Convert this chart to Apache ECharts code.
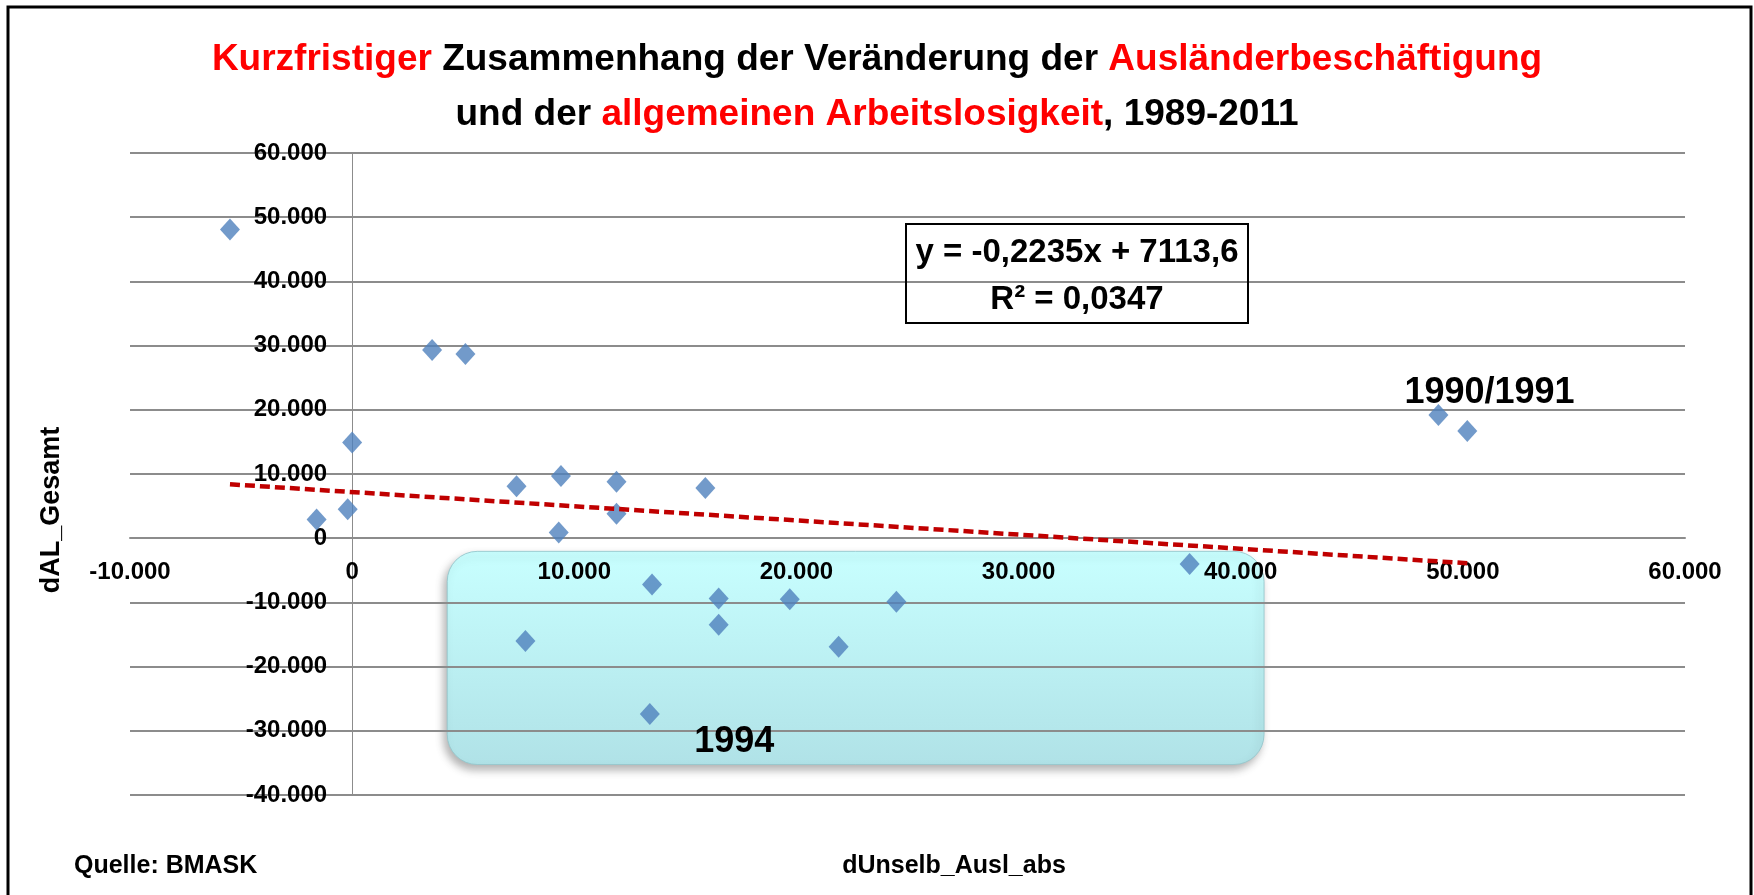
<!DOCTYPE html>
<html lang="de">
<head>
    <meta charset="UTF-8">
    <title>Ausländerbeschäftigung und Arbeitslosigkeit</title>
    <style>
        html, body { margin: 0; padding: 0; background: #fff; }
    </style>
</head>
<body>
<div id="container" style="width: 1754px;height:895px;"></div>

<script src="https://cdn.jsdelivr.net/npm/echarts@6/dist/echarts.min.js"></script>
<script type="text/javascript">

// Veränderung der unselbständig beschäftigten Ausländer (x) und der Arbeitslosen (y), 1989-2011
var dUnselbAusl = [-5500, 3600, 5100, 0, -1600, -200, 7400, 9400, 9300, 11900, 11900, 15900,
                   13500, 16500, 16500, 19700, 7800, 21900, 13400, 24500, 37700, 48900, 50200];
var dALGesamt   = [48100, 29300, 28700, 14900, 2900, 4500, 8100, 9700, 900, 8800, 3800, 7800,
                   -7200, -9400, -13500, -9500, -16000, -16900, -27400, -9900, -4000, 19200, 16700];

// lineare Trendlinie (Endpunkte)
var trendX = [-5500, 50200];
var trendY = [8400, -3900];

// Achsen
var xTicks = {min: -10000, max: 60000, step: 10000};
var yTicks = {min: -40000, max: 60000, step: 10000};

// Markierungen (in Datenkoordinaten)
var boxRange = {x: [4280, 41050], y: [-2050, -35250]};
var yearNotes = [
  {text: '1990/1991', x: 51200, y: 22600},
  {text: '1994', x: 17200, y: -31800}
];

var FONT = "'Liberation Sans', Arial, sans-serif";

function fmt(v) {
  // 10000 -> 10.000
  var s = Math.abs(v).toString().replace(/\B(?=(\d{3})+(?!\d))/g, '.');
  return (v < 0 ? '-' : '') + s;
}

var points = [];
for (var i = 0; i < dUnselbAusl.length; i++) {
  points.push([dUnselbAusl[i], dALGesamt[i]]);
}
var trend = [];
for (var i = 0; i < trendX.length; i++) {
  trend.push([trendX[i], trendY[i]]);
}

var gridLeft = 130, gridRight = 69, gridTop = 153, gridBottom = 100;
var plotW = 1754 - gridLeft - gridRight;
var plotH = 895 - gridTop - gridBottom;
// Achsen kreuzen bei 0: Abstand der Null vom Rand
var yAxisShift = plotW * (0 - xTicks.min) / (xTicks.max - xTicks.min);
var xAxisShift = plotH * (0 - yTicks.min) / (yTicks.max - yTicks.min);

var dom = document.getElementById("container");
var myChart = echarts.init(dom);

var option = {
    backgroundColor: '#fff',
    animation: false,
    title: {
        left: 'center',
        top: 27,
        text: '{r|Kurzfristiger} {b|Zusammenhang der Veränderung der} {r|Ausländerbeschäftigung}\n{b|und der} {r|allgemeinen Arbeitslosigkeit}{b|, 1989-2011}',
        textStyle: {
            fontFamily: FONT, fontSize: 37, fontWeight: 'bold', color: '#000', lineHeight: 55,
            rich: {
                r: {color: '#ff0000', fontFamily: FONT, fontSize: 37, fontWeight: 'bold', lineHeight: 55},
                b: {color: '#000000', fontFamily: FONT, fontSize: 37, fontWeight: 'bold', lineHeight: 55}
            }
        }
    },
    grid: {
        left: gridLeft,
        right: gridRight,
        top: gridTop,
        bottom: gridBottom
    },
    xAxis: {
        type: 'value',
        z: 2,
        min: xTicks.min,
        max: xTicks.max,
        interval: xTicks.step,
        offset: -xAxisShift,
        axisLine: {show: true, onZero: false, lineStyle: {color: '#8c8c8c', width: 2}},
        axisTick: {show: false},
        splitLine: {show: false},
        axisLabel: {
            margin: 22,
            fontFamily: FONT, fontSize: 24, fontWeight: 'bold', color: '#000',
            formatter: fmt
        }
    },
    yAxis: {
        type: 'value',
        z: 2,
        min: yTicks.min,
        max: yTicks.max,
        interval: yTicks.step,
        offset: -yAxisShift,
        axisLine: {show: true, onZero: false, lineStyle: {color: '#8c8c8c', width: 1}},
        axisTick: {show: false},
        splitLine: {show: true, lineStyle: {color: '#8c8c8c', width: 2}},
        axisLabel: {
            margin: 25,
            fontFamily: FONT, fontSize: 24, fontWeight: 'bold', color: '#000',
            formatter: fmt
        }
    },
    series: [
        {
            name: 'dAL_Gesamt',
            type: 'scatter',
            z: 3,
            symbol: 'diamond',
            symbolSize: [20, 22],
            itemStyle: {color: '#4f81bd'},
            data: points
        },
        {
            name: 'Trend',
            type: 'line',
            z: 4,
            showSymbol: false,
            symbol: 'none',
            lineStyle: {color: '#c00000', width: 4.5, type: [10, 5]},
            data: trend
        }
    ]
};

myChart.setOption(option);

// Markierungen über die Achsen in Pixel umrechnen
var p1 = myChart.convertToPixel({gridIndex: 0}, [boxRange.x[0], boxRange.y[0]]);
var p2 = myChart.convertToPixel({gridIndex: 0}, [boxRange.x[1], boxRange.y[1]]);

var graphics = [
    // Rahmen um das ganze Bild
    {type: 'rect', z: 10, shape: {x: 8, y: 7, width: 1743, height: 900},
     style: {fill: 'none', stroke: '#000', lineWidth: 3}},
    // hervorgehobener Bereich (unter Gitterlinien und Beschriftung)
    {type: 'rect', z: -1,
     shape: {x: p1[0], y: p1[1], width: p2[0] - p1[0], height: p2[1] - p1[1], r: 30},
     style: {
        fill: new echarts.graphic.LinearGradient(0, 0, 0, 1, [
            {offset: 0, color: 'rgb(200,255,255)'},
            {offset: 1, color: 'rgb(176,226,231)'}
        ]),
        stroke: 'rgba(150,200,205,0.9)', lineWidth: 1,
        shadowBlur: 8, shadowOffsetX: -3, shadowOffsetY: 5, shadowColor: 'rgba(0,0,0,0.3)'
     }},
    // Regressionsgleichung
    {type: 'rect', z: 5, shape: {x: 906, y: 224, width: 342, height: 99},
     style: {fill: 'none', stroke: '#000', lineWidth: 2}},
    {type: 'text', z: 6, x: 1077, y: 253,
     style: {text: 'y = -0,2235x + 7113,6', fontFamily: FONT, fontSize: 33, fontWeight: 'bold',
             fill: '#000', align: 'center', verticalAlign: 'middle'}},
    {type: 'text', z: 6, x: 1077, y: 300,
     style: {text: 'R² = 0,0347', fontFamily: FONT, fontSize: 33, fontWeight: 'bold',
             fill: '#000', align: 'center', verticalAlign: 'middle'}},
    // Achsentitel und Quelle
    {type: 'text', z: 6, x: 52, y: 510, rotation: Math.PI / 2,
     style: {text: 'dAL_Gesamt', fontFamily: FONT, fontSize: 27, fontWeight: 'bold',
             fill: '#000', align: 'center', verticalAlign: 'middle'}},
    {type: 'text', z: 6, x: 954, y: 866,
     style: {text: 'dUnselb_Ausl_abs', fontFamily: FONT, fontSize: 25, fontWeight: 'bold',
             fill: '#000', align: 'center', verticalAlign: 'middle'}},
    {type: 'text', z: 6, x: 74, y: 866,
     style: {text: 'Quelle: BMASK', fontFamily: FONT, fontSize: 25, fontWeight: 'bold',
             fill: '#000', align: 'left', verticalAlign: 'middle'}}
];

for (var i = 0; i < yearNotes.length; i++) {
  var p = myChart.convertToPixel({gridIndex: 0}, [yearNotes[i].x, yearNotes[i].y]);
  graphics.push({type: 'text', z: 6, x: p[0], y: p[1],
     style: {text: yearNotes[i].text, fontFamily: FONT, fontSize: 36, fontWeight: 'bold',
             fill: '#000', align: 'center', verticalAlign: 'middle'}});
}

myChart.setOption({graphic: {elements: graphics}});

</script>
</body>
</html>
